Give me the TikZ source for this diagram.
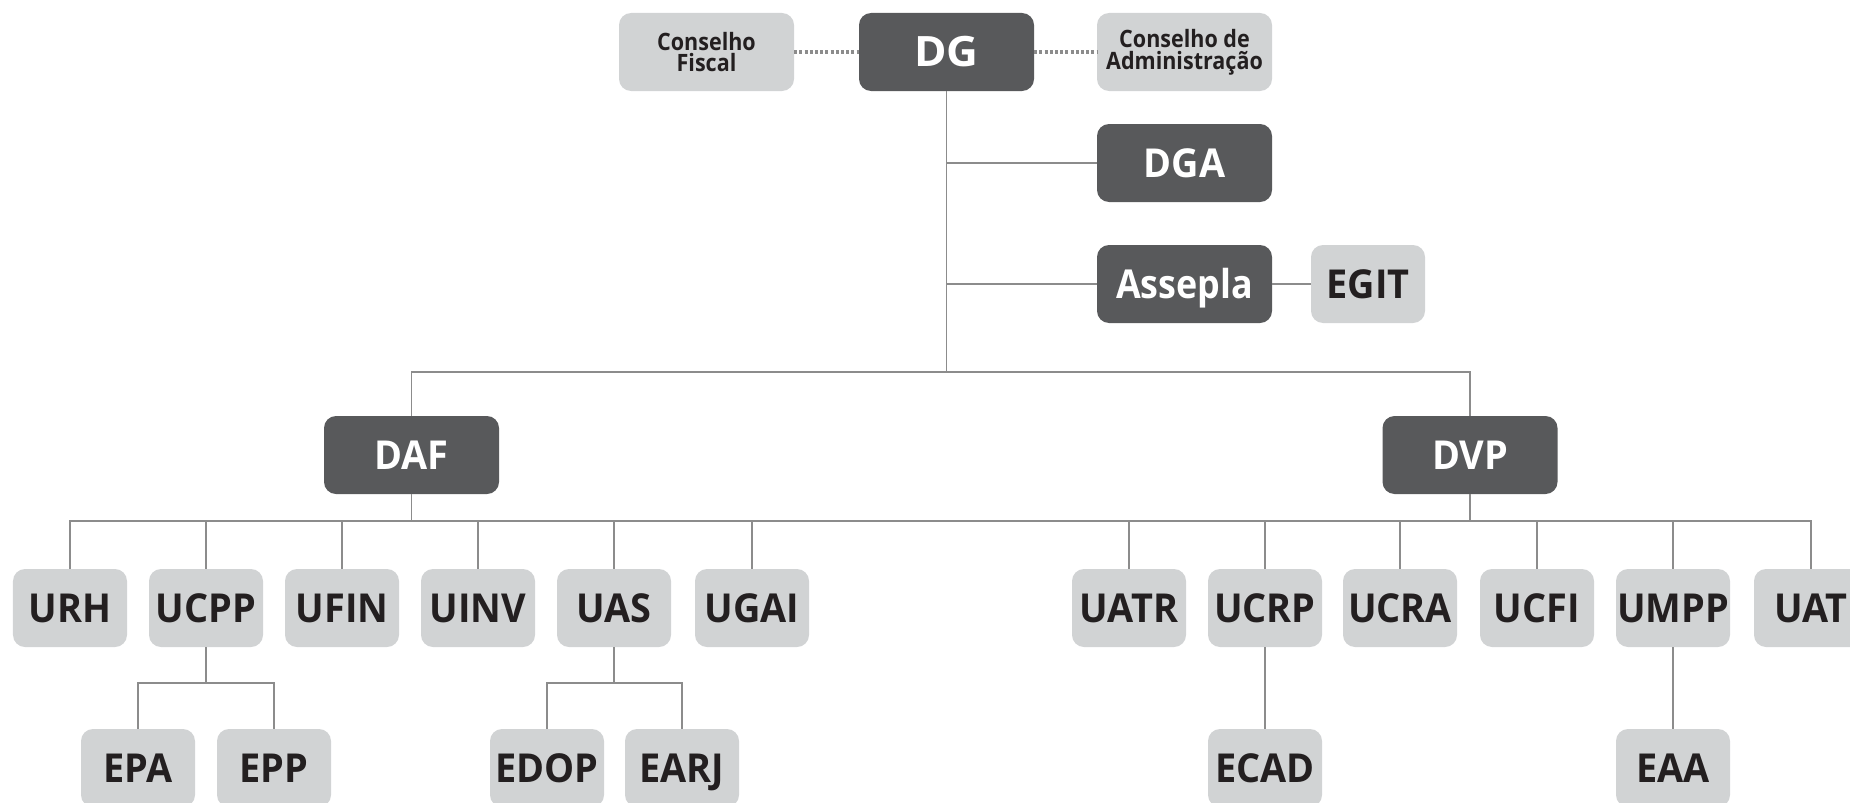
\documentclass[tikz,border=0pt]{standalone}
\usepackage{fontspec}
\newfontfamily\orgfont{Open Sans}[FakeStretch=0.95]
\newfontfamily\orgfontn{Open Sans}[FakeStretch=0.9]
\newfontfamily\orgfontw{Open Sans}[FakeStretch=1.05]
\definecolor{darkbox}{HTML}{58595B}
\definecolor{lightbox}{HTML}{D1D3D4}
\definecolor{inktext}{HTML}{231F20}
\definecolor{linegray}{HTML}{8C8C8C}
\tikzset{
  base/.style={rounded corners=12bp, minimum height=78bp, inner sep=0pt, align=center,
    text height=28.5bp, text depth=0bp,
    font=\orgfont\bfseries\fontsize{40}{40}\selectfont},
  darknode/.style={base, fill=darkbox, text=white, minimum width=175bp},
  wideL/.style={base, fill=lightbox, text=inktext, minimum width=175bp},
  unit/.style={base, fill=lightbox, text=inktext, minimum width=114bp},
  small/.style={font=\orgfontn\bfseries\fontsize{24}{22}\selectfont, text height=, text depth=},
  narrowtext/.style={font=\orgfontn\bfseries\fontsize{40}{40}\selectfont},
  widetext/.style={font=\orgfontw\bfseries\fontsize{42}{42}\selectfont},
  conn/.style={draw=linegray, line width=1.8bp},
  dots/.style={draw=linegray, line width=4bp, dash pattern=on 3bp off 2.2bp}
}
\begin{document}
\begin{tikzpicture}[x=1bp,y=-1bp]
\useasboundingbox (0,0) rectangle (1850,803);
% top level
\node[wideL, small] (CF) at (706.5,52) {Conselho\\Fiscal};
\node[darknode, widetext] (DG) at (946.5,52) {DG};
\node[wideL, small] (CA) at (1184.5,52) {Conselho de\\Administração};
\node[darknode] (DGA) at (1184.5,163) {DGA};
\node[darknode, narrowtext] (ASS) at (1184.5,284) {Assepla};
\node[unit] (EGIT) at (1368,284) {EGIT};
\node[darknode] (DAF) at (411.5,455) {DAF};
\node[darknode] (DVP) at (1470,455) {DVP};
% units
\foreach \n/\x in {URH/70,UCPP/206,UFIN/342,UINV/478,UAS/614,UGAI/752,UATR/1129,UCRP/1265,UCRA/1400,UCFI/1537,UMPP/1673,UAT/1811}
  \node[unit] (\n) at (\x,608) {\n};
\foreach \n/\x in {EPA/138,EPP/274,EDOP/547,EARJ/682,ECAD/1265,EAA/1673}
  \node[unit] (\n) at (\x,768) {\n};
\coordinate (b1) at (0,372);
\coordinate (b2) at (0,521);
\coordinate (b3) at (0,683);
% connectors
\draw[dots] (CF) -- (DG);
\draw[dots] (DG) -- (CA);
\draw[conn] (DG.south) -- (DG.south |- b1);
\draw[conn] (DG.south |- DGA) -- (DGA.west);
\draw[conn] (DG.south |- ASS) -- (ASS.west);
\draw[conn] (ASS) -- (EGIT);
\draw[conn] (DAF.north) -- (DAF.north |- b1) -- (DVP.north |- b1) -- (DVP.north);
\draw[conn] (DAF.south) -- (DAF.south |- b2);
\draw[conn] (DVP.south) -- (DVP.south |- b2);
\draw[conn] (URH.north) -- (URH.north |- b2) -- (UAT.north |- b2) -- (UAT.north);
\foreach \n in {UCPP,UFIN,UINV,UAS,UGAI,UATR,UCRP,UCRA,UCFI,UMPP}
  \draw[conn] (\n.north) -- (\n.north |- b2);
\draw[conn] (UCPP.south) -- (UCPP.south |- b3);
\draw[conn] (EPA.north) -- (EPA.north |- b3) -- (EPP.north |- b3) -- (EPP.north);
\draw[conn] (UAS.south) -- (UAS.south |- b3);
\draw[conn] (EDOP.north) -- (EDOP.north |- b3) -- (EARJ.north |- b3) -- (EARJ.north);
\draw[conn] (UCRP) -- (ECAD);
\draw[conn] (UMPP) -- (EAA);
\end{tikzpicture}
\end{document}
